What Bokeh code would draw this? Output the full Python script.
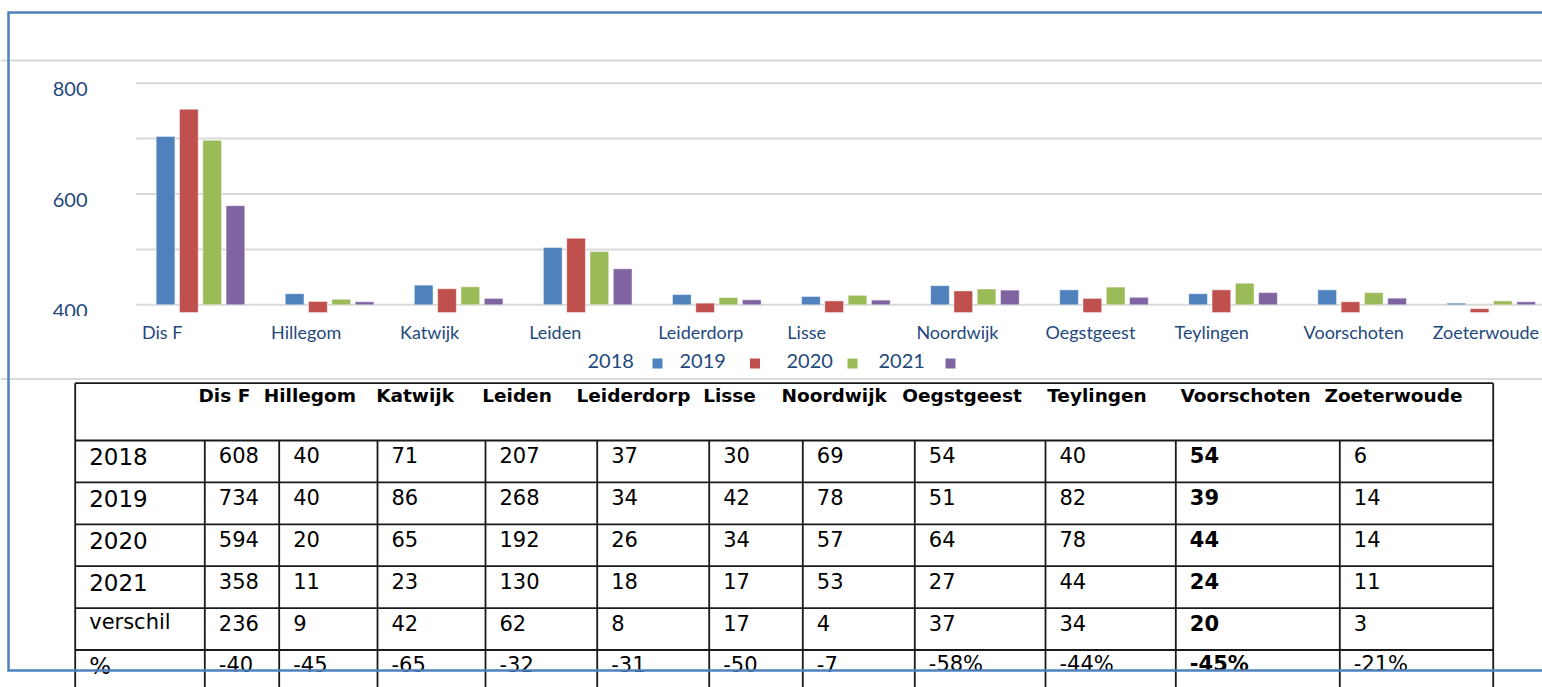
from bokeh.plotting import figure
from bokeh.models import Range1d, ColumnDataSource
from bokeh.core.properties import value
from bokeh.embed import file_html
from bokeh.resources import INLINE

# ---------------- data ----------------
categories = ["Dis F", "Hillegom", "Katwijk", "Leiden", "Leiderdorp", "Lisse",
              "Noordwijk", "Oegstgeest", "Teylingen", "Voorschoten", "Zoeterwoude"]
years = ["2018", "2019", "2020", "2021"]
v2018 = [608, 40, 71, 207, 37, 30, 69, 54, 40, 54, 6]
v2019 = [734, 40, 86, 268, 34, 42, 78, 51, 82, 39, 14]
v2020 = [594, 20, 65, 192, 26, 34, 57, 64, 78, 44, 14]
v2021 = [358, 11, 23, 130, 18, 17, 53, 27, 44, 24, 11]
verschil = [236, 9, 42, 62, 8, 17, 4, 37, 34, 20, 3]
pct = ["-40", "-45", "-65", "-32", "-31", "-50", "-7", "-58%", "-44%", "-45%", "-21%"]
row_labels = ["2018", "2019", "2020", "2021", "verschil", "%"]
grid_values = [0, 200, 400, 600, 800]
y_tick_values = [800, 400, 0]
y_tick_labels = ["800", "600", "400"]
bold_category = "Voorschoten"

series = [v2018, v2019, v2020, v2021]
colors = ["#4F81BD", "#C0504D", "#9BBB59", "#8064A2"]

# ---------------- layout constants (page pixels) ----------------
W, H = 1542, 687
OX, OY = 0, 0
BASE_Y = 304.3          # page y of value 0
PX_PER_UNIT = 0.277
CAT0_X = 200.0          # page x of first category centre
CAT_STEP = 129.07
BAR_PITCH = 23.3 / CAT_STEP
BAR_W = 18.7 / CAT_STEP
RED_SHIFT = 28          # the 2019 series sits below the baseline in the picture
TEXT_BLUE = "#1F497D"
FONT = value("Lato")
TFONT = value("DejaVu Sans")

p = figure(width=W, height=H, output_backend="svg", toolbar_location=None,
           x_range=Range1d(OX, OX + W), y_range=Range1d(OY + H, OY),
           x_axis_location=None, y_axis_location=None, min_border=0,
           outline_line_color=None, background_fill_color="white",
           border_fill_color="white")
p.grid.visible = False
p.extra_x_ranges = {"cat": Range1d((OX - CAT0_X) / CAT_STEP, (OX + W - CAT0_X) / CAT_STEP)}
p.extra_y_ranges = {"val": Range1d((BASE_Y - (OY + H)) / PX_PER_UNIT, (BASE_Y - OY) / PX_PER_UNIT)}

n = len(categories)

# page rules (gray)
p.segment(x0=[0, 0], x1=[OX + W, OX + W], y0=[60, 378.5], y1=[60, 378.5],
          line_color="#D9D9D9", line_width=2)

# grid lines
p.segment(x0=[-0.5] * len(grid_values), x1=[n - 0.5] * len(grid_values),
          y0=grid_values, y1=grid_values, x_range_name="cat", y_range_name="val",
          line_color="#D9D9D9", line_width=2)

# bars
for k, (vals, c) in enumerate(zip(series, colors)):
    off = (k - 1.5) * BAR_PITCH
    shift = RED_SHIFT if k == 1 else 0
    src = ColumnDataSource(dict(x=[i + off for i in range(n)],
                                top=[v - shift for v in vals],
                                bottom=[-shift] * n))
    p.vbar(x="x", top="top", bottom="bottom", width=BAR_W, source=src,
           fill_color=c, line_color="white", line_alpha=0.45, line_width=1,
           x_range_name="cat", y_range_name="val")

# category labels
p.text(x=[i - 0.5 for i in range(n)], y=[331] * n, text=categories, x_offset=6,
       text_align="left", text_baseline="middle", text_font=FONT,
       text_font_size="18px", text_color=TEXT_BLUE, x_range_name="cat")

# y tick labels
p.text(x=[87] * len(y_tick_values), y=y_tick_values, text=y_tick_labels, y_offset=6,
       text_align="right", text_baseline="middle", text_font=FONT,
       text_font_size="20px", text_color=TEXT_BLUE, y_range_name="val")
# the lowest tick label is cut off in the picture
p.quad(left=[40], right=[100], top=[315.5], bottom=[322], fill_color="white", line_color=None)

# legend
legend_text_x = [587, 679, 786, 878]
legend_sq_x = [657, 754.5, 852, 950]
p.scatter(x=legend_sq_x, y=[363] * 4, marker="square", size=10, fill_color=colors,
          line_color=None)
p.text(x=legend_text_x, y=[360.5] * 4, text=years, text_align="left",
       text_baseline="middle", text_font=FONT, text_font_size="20px",
       text_color=TEXT_BLUE)

# ---------------- table ----------------
col_edges = [74.7, 204.3, 278.7, 377, 485, 596.7, 708.7, 802.3, 914.3, 1045, 1175.3, 1339.3, 1492.7]
header_x = [198, 263.3, 375.7, 481.7, 576, 702.7, 781, 901.7, 1046.7, 1180, 1324]
T_TOP = 382.7
H_BOT = 440.0
ROW_H = 41.9
T_BOT = OY + H + 10
nrows = len(row_labels)
row_tops = [H_BOT + r * ROW_H for r in range(nrows)]
LINE_C = "#1a1a1a"

# horizontal rules
hy = [T_TOP] + row_tops
p.segment(x0=[col_edges[0]] * len(hy), x1=[col_edges[-1]] * len(hy), y0=hy, y1=hy,
          line_color=LINE_C, line_width=1.8)
# outer verticals
p.segment(x0=[col_edges[0], col_edges[-1]], x1=[col_edges[0], col_edges[-1]],
          y0=[T_TOP, T_TOP], y1=[T_BOT, T_BOT], line_color=LINE_C, line_width=1.8)
# inner verticals
inner = col_edges[1:-1]
p.segment(x0=inner, x1=inner, y0=[H_BOT] * len(inner), y1=[T_BOT] * len(inner),
          line_color=LINE_C, line_width=1.8)

# header texts
p.text(x=header_x, y=[395.3] * n, text=categories, text_align="left",
       text_baseline="middle", text_font=TFONT, text_font_size="18.5px",
       text_font_style="bold", text_color="black")

# row labels
label_dy = [16.2, 16.2, 16.2, 16.2, 14.0, 16.0]
p.text(x=[col_edges[0] + 14] * nrows, y=[t + d for t, d in zip(row_tops, label_dy)],
       text=row_labels, text_align="left", text_baseline="middle", text_font=TFONT,
       text_font_size=["23px", "23px", "23px", "23px", "21px", "23px"],
       text_color="black")

# values
rows = [v2018, v2019, v2020, v2021, verschil, pct]
norm = dict(x=[], y=[], t=[])
bold = dict(x=[], y=[], t=[])
for r, rv in enumerate(rows):
    for c, val in enumerate(rv):
        d = bold if categories[c] == bold_category else norm
        d["x"].append(col_edges[c + 1] + 14)
        d["y"].append(row_tops[r] + 14.4)
        d["t"].append(str(val))
p.text(x="x", y="y", text="t", source=ColumnDataSource(norm), text_align="left",
       text_baseline="middle", text_font=TFONT, text_font_size="21px",
       text_color="black")
p.text(x="x", y="y", text="t", source=ColumnDataSource(bold), text_align="left",
       text_baseline="middle", text_font=TFONT, text_font_size="21px",
       text_font_style="bold", text_color="black")

# blue frame (drawn on top)
p.line(x=[OX + W + 5, 8, 8, OX + W + 5], y=[12, 12, 670, 670], line_color="#4F81BD",
       line_width=2.5, line_join="miter")

open("out.html", "w").write(file_html(p, INLINE))
